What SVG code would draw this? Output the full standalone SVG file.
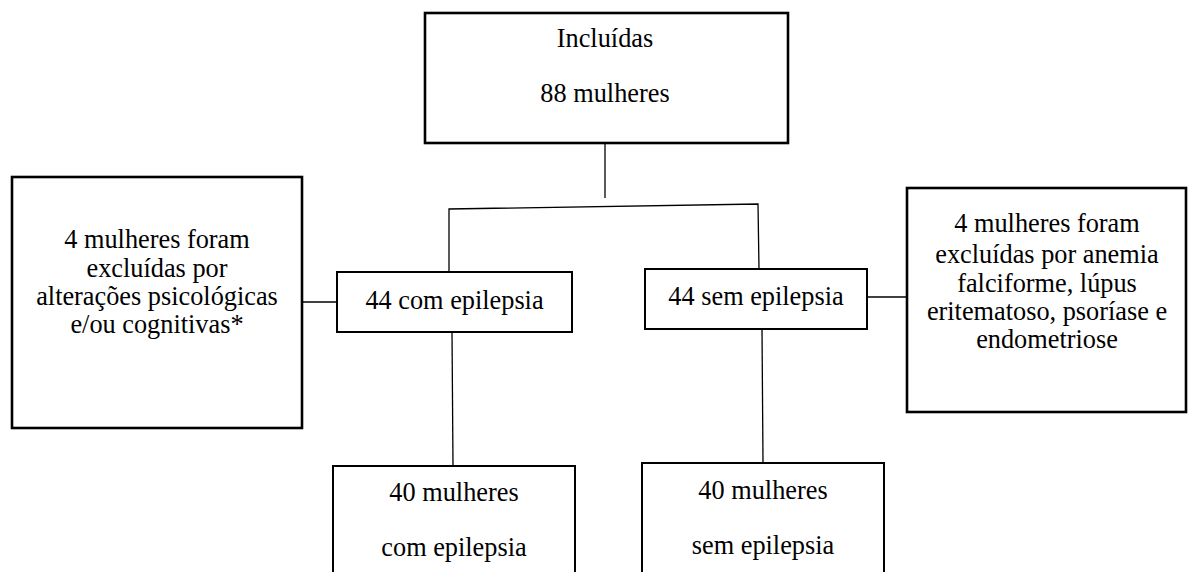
<svg xmlns="http://www.w3.org/2000/svg" width="1196" height="572" viewBox="0 0 1196 572">
<style>
.box{fill:#fff;stroke:#000;stroke-width:2}
.big{stroke-width:2.6}
.t{font-family:'Liberation Serif','Times New Roman',serif;font-size:26.3px;fill:#000;text-anchor:middle}
.c{fill:none;stroke:#000;stroke-width:1.3}
</style>
<rect width="1196" height="572" fill="#fff"/>
<g id="connectors">
<line class="c" x1="605" y1="143" x2="605" y2="198"/>
<polyline class="c" points="449,271 449,209 758,204 759,269"/>
<line class="c" x1="302" y1="302" x2="337" y2="302"/>
<line class="c" x1="867" y1="297" x2="907" y2="297"/>
<line class="c" x1="452" y1="332" x2="453" y2="466"/>
<line class="c" x1="762" y1="329" x2="763" y2="463"/>
</g>
<g id="incluidas">
<rect class="box big" x="425" y="13" width="363" height="130"/>
<text class="t" x="605" y="47">Incluídas</text>
<text class="t" x="605" y="102">88 mulheres</text>
</g>
<g id="excl-left">
<rect class="box big" x="12" y="177" width="290" height="251"/>
<text class="t" x="157" y="248">4 mulheres foram</text>
<text class="t" x="157" y="277">excluídas por</text>
<text class="t" x="157" y="305">alterações psicológicas</text>
<text class="t" x="157" y="333">e/ou cognitivas*</text>
</g>
<g id="com-epilepsia">
<rect class="box" x="337" y="272" width="235" height="60"/>
<text class="t" x="454.5" y="309">44 com epilepsia</text>
</g>
<g id="sem-epilepsia">
<rect class="box" x="645" y="269" width="222" height="60"/>
<text class="t" x="756" y="305">44 sem epilepsia</text>
</g>
<g id="excl-right">
<rect class="box big" x="907" y="188" width="279" height="224"/>
<text class="t" x="1047" y="232">4 mulheres foram</text>
<text class="t" x="1047" y="263">excluídas por anemia</text>
<text class="t" x="1047" y="292">falciforme, lúpus</text>
<text class="t" x="1047" y="320">eritematoso, psoríase e</text>
<text class="t" x="1047" y="348">endometriose</text>
</g>
<g id="final-com">
<rect class="box" x="333" y="466" width="242" height="120"/>
<text class="t" x="454" y="501">40 mulheres</text>
<text class="t" x="454" y="556">com epilepsia</text>
</g>
<g id="final-sem">
<rect class="box" x="642" y="463" width="242" height="120"/>
<text class="t" x="763" y="499">40 mulheres</text>
<text class="t" x="763" y="554">sem epilepsia</text>
</g>
</svg>
